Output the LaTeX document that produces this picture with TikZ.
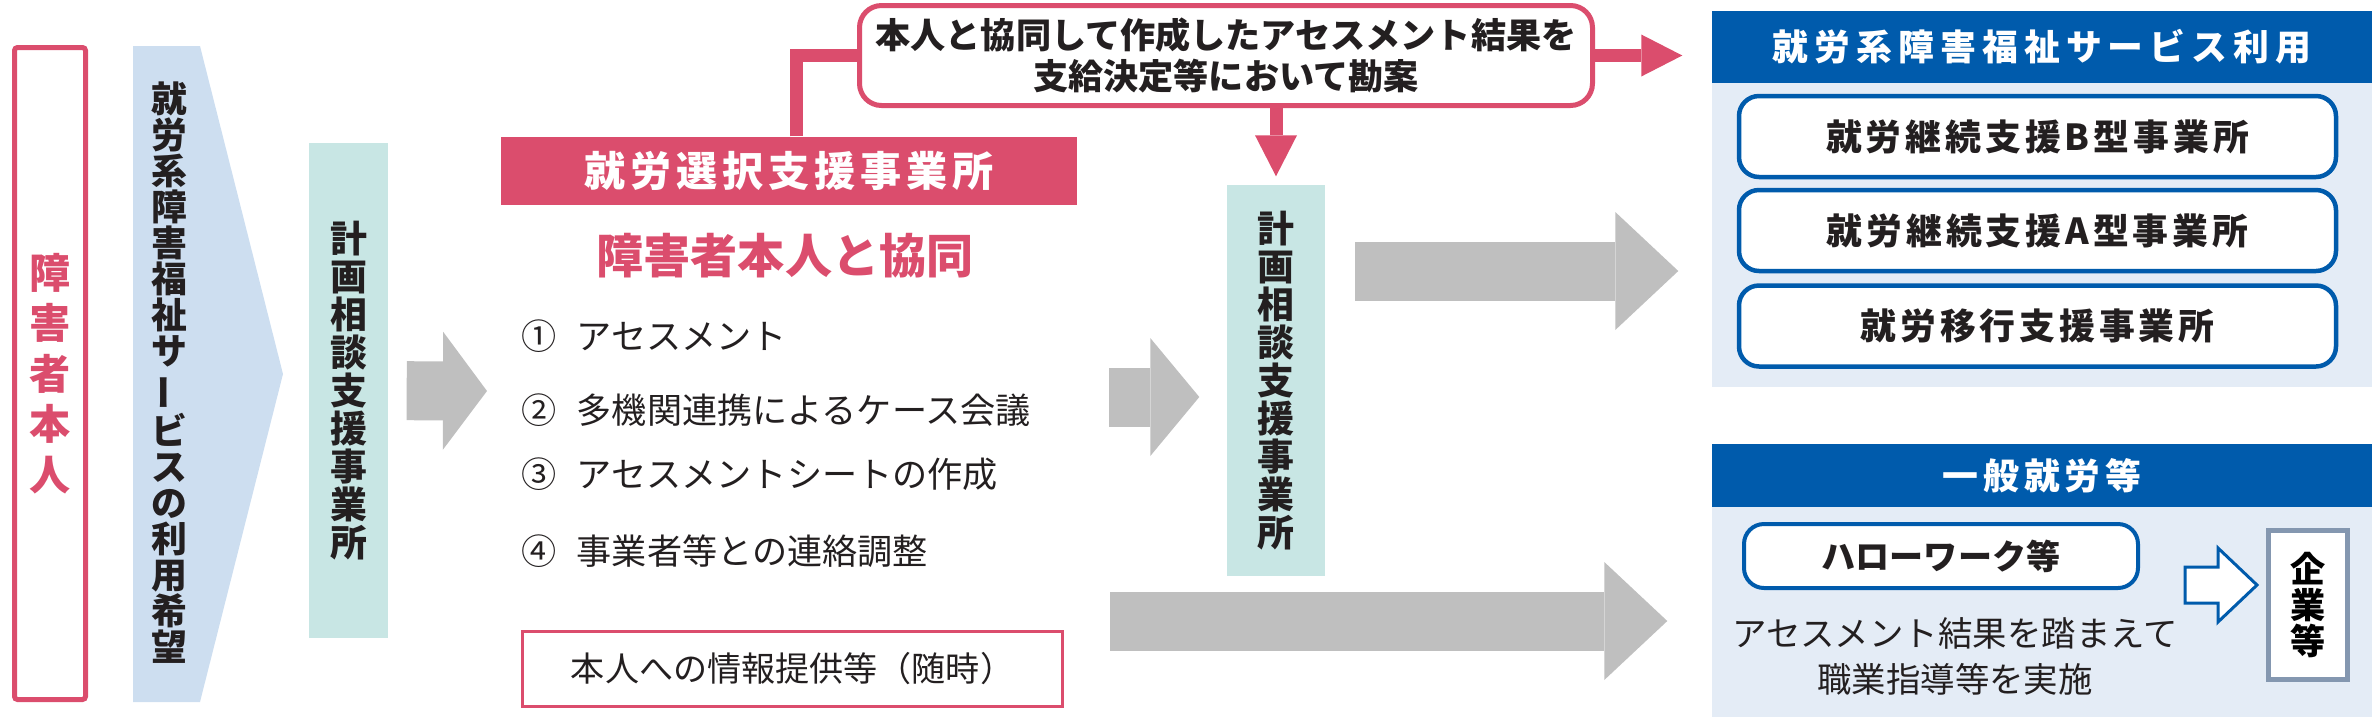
\documentclass[tikz,border=0pt]{standalone}
\usepackage{fontspec}
\setmainfont{Noto Sans CJK JP}
\usetikzlibrary{arrows.meta}

\definecolor{pinkc}{RGB}{219,77,109}
\definecolor{bluec}{RGB}{0,91,172}
\definecolor{panelc}{RGB}{228,236,246}
\definecolor{wishc}{RGB}{205,222,240}
\definecolor{planc}{RGB}{200,230,228}
\definecolor{arrowc}{RGB}{191,191,191}
\definecolor{firmc}{RGB}{132,151,176}
\definecolor{textc}{RGB}{35,31,32}

\begin{document}
\begin{tikzpicture}[x=0.1mm, y=-0.1mm,
	planbox/.style={fill=planc, inner sep=0pt, align=center, text=textc, font=\bfseries\fontsize{10.5}{10.8}\selectfont},
	headbar/.style={fill=bluec, minimum width=66mm, inner sep=0pt, text=white, font=\bfseries\fontsize{10.2}{12}\selectfont\addfontfeatures{LetterSpace=17}},
	panel/.style={fill=panelc, minimum width=66mm, inner sep=0pt},
	svcbox/.style={draw=bluec, line width=0.45mm, fill=white, rounded corners=2mm, minimum width=59.7mm, minimum height=8.1mm, inner sep=0pt, text=textc, font=\bfseries\fontsize{10.2}{12}\selectfont\addfontfeatures{LetterSpace=11}},
	item/.style={anchor=west, inner sep=0pt, text=textc, font=\fontsize{10}{12}\selectfont},
	grayarrow/.style={draw=arrowc, line width=5.9mm, -{Triangle[length=#1, width=11.8mm, line width=0pt]}},
	pinkline/.style={draw=pinkc, line width=1.3mm},
	pinkarrow/.style={pinkline, -{Triangle[length=4.1mm, width=4.2mm, line width=0pt]}}]
	\useasboundingbox (0,0) rectangle (2375,720);

	% person and wish
	\node[draw=pinkc, line width=0.5mm, rounded corners=0.3mm, minimum width=7.1mm, minimum height=65.2mm, inner sep=0pt, align=center, text=pinkc, font=\bfseries\fontsize{11.7}{14.4}\selectfont] (person) at (50,373.5) {障\\害\\者\\本\\人};
	\fill[wishc] (133,46) -- (200,46) -- (283,374) -- (200,702) -- (133,702) -- cycle;
	\node[align=center, inner sep=0pt, text=textc, font=\bfseries\fontsize{10.2}{10.24}\selectfont] (wish) at (169,373) {就\\労\\系\\障\\害\\福\\祉\\サ\\\rotatebox[origin=c]{90}{ー}\\ビ\\ス\\の\\利\\用\\希\\望};

	\node[planbox, minimum width=7.9mm, minimum height=49.5mm] (plan1) at (348.5,390.5) {計\\画\\相\\談\\支\\援\\事\\業\\所};
	\coordinate (in1) at (487,391);
	\draw[grayarrow=4.4mm, shorten <=1.8mm] (plan1) -- (in1);

	% selection support
	\node[fill=pinkc, minimum width=57.6mm, minimum height=6.8mm, inner sep=0pt, text=white, font=\bfseries\fontsize{11.7}{14}\selectfont\addfontfeatures{LetterSpace=12}] (sel) at (789,171) {就労選択支援事業所};
	\node[inner sep=0pt, text=pinkc, font=\bfseries\fontsize{13.4}{16}\selectfont] (cotitle) at (785,256) {障害者本人と協同};
	\node[item] (item1) at (521,336) {①\hspace{2mm}アセスメント};
	\node[item] (item2) at (521,410) {②\hspace{2mm}多機関連携によるケース会議};
	\node[item] (item3) at (521,474) {③\hspace{2mm}アセスメントシートの作成};
	\node[item] (item4) at (521,551) {④\hspace{2mm}事業者等との連絡調整};
	\node[draw=pinkc, line width=0.3mm, minimum width=54mm, minimum height=7.5mm, inner sep=0pt, text=textc, font=\fontsize{9.7}{12}\selectfont] (info) at (792.5,669) {本人への情報提供等（随時）};

	\node[draw=pinkc, line width=0.5mm, fill=white, rounded corners=2.2mm, minimum width=73.3mm, minimum height=10mm, inner sep=0pt, align=center, text=textc, font=\bfseries\fontsize{10}{11.7}\selectfont] (note) at (1226,55.5) {本人と協同して作成したアセスメント結果を\\支給決定等において勘案};

	\node[planbox, minimum width=9.8mm, minimum height=39.1mm] (plan2) at (1276,380.5) {計\\画\\相\\談\\支\\援\\事\\業\\所};
	\coordinate (out2) at (1109,397);
	\draw[grayarrow=4.9mm, shorten >=2.7mm] (out2) -- (plan2.west |- out2);

	% welfare services
	\node[panel, minimum height=30.4mm] (panel1) at (2042,235) {};
	\node[headbar, minimum height=7.2mm] (head1) at (2042,47) {就労系障害福祉サービス利用};
	\node[svcbox] (svcB) at (2037.5,136.5) {就労継続支援B型事業所};
	\node[svcbox] (svcA) at (2037.5,230.5) {就労継続支援A型事業所};
	\node[svcbox] (svcT) at (2037.5,326) {就労移行支援事業所};
	\coordinate (out3) at (1355,271);
	\draw[grayarrow=6.3mm, shorten >=3.3mm] (out3) -- (panel1.west |- out3);

	% general employment
	\node[panel, minimum height=21mm] (panel2) at (2042,612) {};
	\node[headbar, minimum height=6.3mm, font=\bfseries\fontsize{10.2}{12}\selectfont\addfontfeatures{LetterSpace=14}] (head2) at (2042,475.5) {一般就労等};
	\node[draw=bluec, line width=0.4mm, fill=white, rounded corners=2mm, minimum width=39.4mm, minimum height=6.4mm, inner sep=0pt, text=textc, font=\bfseries\fontsize{9.7}{12}\selectfont] (hello) at (1941,556) {ハローワーク等};
	\node[align=center, inner sep=0pt, text=textc, font=\fontsize{9.8}{13.1}\selectfont] (advice) at (1955,656) {アセスメント結果を踏まえて\\職業指導等を実施};
	\node[draw=firmc, line width=0.5mm, fill=white, minimum width=7.9mm, minimum height=14.9mm, inner sep=0pt, align=center, text=black, font=\bfseries\fontsize{10}{10.2}\selectfont] (firm) at (2308,605) {企\\業\\等};
	\draw[draw=bluec, line width=0.3mm, fill=white] (2185,567) -- (2218,567) -- (2218,548) -- (2257,585) -- (2218,622) -- (2218,603) -- (2185,603) -- cycle;
	\coordinate (out4) at (1110,621);
	\draw[grayarrow=6.3mm, shorten >=4.4mm] (out4) -- (panel2.west |- out4);

	% pink links
	\draw[pinkline] ([xshift=0.7mm]sel.north) |- (note.west);
	\draw[pinkarrow, shorten >=2.9mm] (note.east) -- (head1.west |- note.east);
	\draw[pinkarrow, shorten >=0.8mm] (note.south -| plan2) -- (plan2.north);
\end{tikzpicture}
\end{document}
